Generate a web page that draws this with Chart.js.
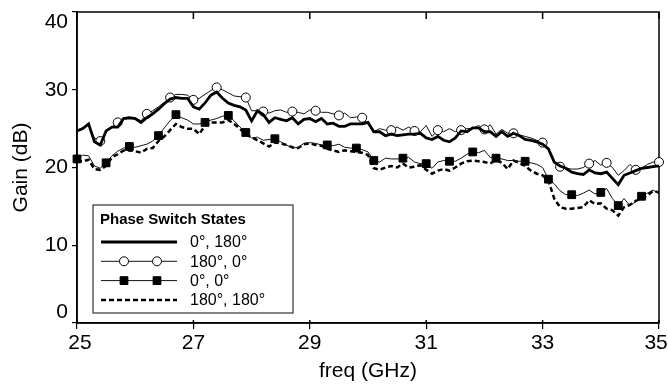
<!DOCTYPE html>
<html>
<head>
<meta charset="utf-8">
<script src="https://cdn.jsdelivr.net/npm/chart.js@4.4.1/dist/chart.umd.min.js"></script>
<style>
html, body { margin: 0; padding: 0; background: #fff; }
#wrap { width: 668px; height: 386px; }
</style>
</head>
<body>
<div id="wrap"><canvas id="chartGain" width="668" height="386"></canvas></div>
<script>
// frecuencias (GHz), paso 0.1
const freqGHz = [
  25.0, 25.1, 25.2, 25.3, 25.4, 25.5, 25.6, 25.7, 25.8, 25.9,
  26.0, 26.1, 26.2, 26.3, 26.4, 26.5, 26.6, 26.7, 26.8, 26.9,
  27.0, 27.1, 27.2, 27.3, 27.4, 27.5, 27.6, 27.7, 27.8, 27.9,
  28.0, 28.1, 28.2, 28.3, 28.4, 28.5, 28.6, 28.7, 28.8, 28.9,
  29.0, 29.1, 29.2, 29.3, 29.4, 29.5, 29.6, 29.7, 29.8, 29.9,
  30.0, 30.1, 30.2, 30.3, 30.4, 30.5, 30.6, 30.7, 30.8, 30.9,
  31.0, 31.1, 31.2, 31.3, 31.4, 31.5, 31.6, 31.7, 31.8, 31.9,
  32.0, 32.1, 32.2, 32.3, 32.4, 32.5, 32.6, 32.7, 32.8, 32.9,
  33.0, 33.1, 33.2, 33.3, 33.4, 33.5, 33.6, 33.7, 33.8, 33.9,
  34.0, 34.1, 34.2, 34.3, 34.4, 34.5, 34.6, 34.7, 34.8, 34.9,
  35.0
];

// ganancia (dB) por estado de los conmutadores de fase
const gain0_180 = [
  24.7, 25.0, 25.6, 23.3, 22.9, 24.7, 25.2, 25.2, 26.3, 26.4,
  26.3, 25.8, 26.4, 26.9, 27.5, 28.2, 28.8, 29.0, 28.9, 28.9,
  27.8, 27.5, 28.3, 29.3, 29.7, 28.9, 28.3, 28.0, 27.8, 27.4,
  26.0, 27.3, 26.8, 25.8, 26.4, 26.2, 26.0, 26.4, 25.6, 26.2,
  26.3, 25.9, 26.3, 25.6, 25.7, 25.3, 25.3, 25.6, 25.6, 25.6,
  25.8, 24.6, 24.6, 24.1, 24.3, 24.1, 24.2, 24.3, 24.3, 24.4,
  23.8, 23.6, 24.0, 23.5, 23.3, 23.8, 24.7, 24.6, 25.1, 25.1,
  24.6, 24.6, 24.0, 24.6, 24.0, 24.4, 24.1, 23.6, 23.5, 23.3,
  23.0, 22.4, 20.7, 20.2, 19.9, 19.4, 19.2, 19.1, 19.7, 19.3,
  19.2, 19.4, 18.6, 17.8, 19.0, 19.3, 19.6, 19.9, 20.0, 20.1,
  20.2
];
const gain180_0 = [
  24.8, 25.1, 25.5, 23.8, 23.4, 24.6, 25.2, 25.8, 26.4, 26.4,
  26.4, 26.0, 26.9, 27.3, 27.8, 28.4, 29.0, 29.4, 29.4, 29.3,
  28.7, 28.9, 29.4, 29.9, 30.3, 30.0, 29.6, 29.2, 29.1, 29.0,
  27.3, 27.3, 27.2, 27.0, 27.3, 27.4, 27.1, 27.2, 27.1, 26.9,
  27.4, 27.3, 27.1, 27.1, 26.9, 26.7, 27.0, 26.4, 26.5, 26.4,
  25.6, 24.6, 25.0, 24.8, 24.8, 25.2, 24.8, 25.2, 24.7, 24.6,
  25.4, 24.0, 24.8, 24.6, 25.0, 24.6, 24.8, 25.0, 25.0, 25.4,
  24.9, 25.5, 24.3, 24.9, 24.4, 24.4, 24.2, 24.0, 23.8, 23.5,
  23.2, 22.5, 20.8, 20.1, 19.9, 19.8, 19.8, 20.0, 20.5, 20.9,
  20.3, 20.6, 20.0, 19.0, 19.6, 20.4, 19.7, 19.9, 20.4, 20.7,
  20.7
];
const gain0_0 = [
  21.1, 21.6, 21.5, 20.2, 19.9, 20.6, 21.5, 22.1, 22.5, 22.7,
  22.6, 22.8, 23.0, 23.4, 24.1, 25.1, 26.0, 26.8, 26.4, 26.1,
  25.6, 25.6, 25.8, 26.1, 26.3, 26.6, 26.7, 26.0, 25.2, 24.5,
  23.8, 23.9, 23.5, 23.6, 23.7, 23.3, 22.9, 22.5, 22.6, 23.1,
  23.2, 23.1, 22.9, 22.9, 22.8, 23.0, 22.6, 22.5, 22.5, 22.3,
  22.0, 20.9, 20.7, 21.2, 21.1, 21.1, 21.2, 21.3, 20.7, 20.5,
  20.5, 19.9, 20.7, 20.9, 20.8, 20.8, 21.2, 21.7, 22.0, 21.9,
  22.2, 21.3, 21.2, 21.1, 20.9, 20.9, 20.8, 20.8, 20.6, 20.4,
  20.0, 18.5, 17.9, 17.0, 16.5, 16.5, 16.4, 16.7, 17.1, 16.6,
  16.8, 17.3, 16.0, 15.1, 16.0, 15.1, 15.6, 16.3, 16.7, 17.1,
  16.6
];
const gain180_180 = [
  20.8, 20.8, 21.0, 19.8, 19.7, 20.2, 21.3, 21.7, 22.2, 22.2,
  22.1, 21.9, 22.4, 22.5, 23.4, 24.0, 24.8, 25.6, 25.2, 25.0,
  25.0, 24.3, 25.4, 25.8, 25.8, 25.8, 26.1, 25.6, 25.0, 24.2,
  23.9, 23.5, 23.1, 22.7, 23.2, 23.1, 22.9, 22.6, 22.5, 23.0,
  23.1, 22.9, 22.8, 22.4, 22.2, 22.0, 22.2, 22.1, 22.0, 21.9,
  21.6, 19.9, 19.7, 20.0, 20.2, 20.0, 20.5, 20.0, 20.1, 20.3,
  19.7, 19.2, 19.6, 19.8, 19.6, 20.0, 20.5, 20.8, 20.9, 20.8,
  20.7, 20.5, 21.0, 20.6, 19.8, 20.9, 20.6, 20.2, 19.6, 19.2,
  19.0, 18.3, 16.0, 14.9, 14.7, 14.7, 14.8, 14.9, 15.8, 15.3,
  15.4, 14.7, 14.5, 13.8, 14.9, 15.2, 15.7, 16.0, 16.4, 17.0,
  16.8
];

// indices de los puntos que llevan marcador
const circleIdx = [4, 7, 12, 16, 20, 24, 29, 32, 37, 41, 45, 49, 54, 58, 62, 66, 70, 75, 80, 83, 88, 91, 96, 100];
const squareIdx = [0, 5, 9, 14, 17, 22, 26, 29, 34, 43, 48, 51, 56, 60, 64, 68, 72, 77, 81, 85, 90, 93, 97];

const xTicks = [25, 27, 29, 31, 33, 35];
const yTicks = [0, 10, 20, 30, 40];
const seriesLabels = ['0°, 180°', '180°, 0°', '0°, 0°', '180°, 180°'];
const legendTitle = 'Phase Switch States';

const FONT = "'Liberation Sans', Arial, Helvetica, sans-serif";

function toPoints(arr) {
    return freqGHz.map((f, i) => ({ x: f, y: arr[i] }));
}

// Caja, ticks interiores y leyenda dibujados a mano
const framePlugin = {
    id: 'frame',
    beforeDatasetsDraw(chart) {
        const { ctx, chartArea: a, scales } = chart;
        ctx.save();
        ctx.strokeStyle = '#000';
        ctx.lineWidth = 1.5;
        ctx.strokeRect(a.left, a.top, a.right - a.left, a.bottom - a.top);
        ctx.beginPath();
        xTicks.forEach(v => {
            const x = scales.x.getPixelForValue(v);
            ctx.moveTo(x, a.top); ctx.lineTo(x, a.top + 7);
            ctx.moveTo(x, a.bottom); ctx.lineTo(x, a.bottom - 3);
        });
        ctx.stroke();
        ctx.restore();
    },
    afterDatasetsDraw(chart) {
        const { ctx, chartArea: a } = chart;
        const box = { x: a.left + 16, y: a.top + 193, w: 200, h: 108 };
        ctx.save();
        ctx.fillStyle = '#fff';
        ctx.fillRect(box.x, box.y, box.w, box.h);
        ctx.strokeStyle = '#333';
        ctx.lineWidth = 1.2;
        ctx.strokeRect(box.x, box.y, box.w, box.h);

        ctx.fillStyle = '#000';
        ctx.font = 'bold 15px ' + FONT;
        ctx.textBaseline = 'middle';
        ctx.textAlign = 'left';
        ctx.fillText(legendTitle, box.x + 7, box.y + 15);

        chart.data.datasets.forEach((ds, i) => {
            const y = box.y + 37 + i * 19.3;
            const x0 = box.x + 8, x1 = box.x + 84;
            ctx.save();
            ctx.strokeStyle = ds.borderColor;
            ctx.lineWidth = ds.borderWidth;
            ctx.setLineDash(ds.borderDash || []);
            ctx.beginPath();
            ctx.moveTo(x0, y); ctx.lineTo(x1, y);
            ctx.stroke();
            ctx.restore();
            if (ds.legendMarker) {
                [box.x + 31, box.x + 64].forEach(mx => {
                    ctx.save();
                    ctx.fillStyle = ds.pointBackgroundColor;
                    ctx.strokeStyle = ds.pointBorderColor;
                    ctx.lineWidth = 1;
                    Chart.helpers.drawPoint(ctx, {
                        pointStyle: ds.pointStyle, radius: ds.legendMarker,
                        rotation: 0, borderWidth: 1
                    }, mx, y);
                    ctx.restore();
                });
            }
            ctx.fillStyle = '#000';
            ctx.font = '16px ' + FONT;
            ctx.fillText(ds.label, box.x + 97, y + 1);
        });
        ctx.restore();
    }
};

const ctx = document.getElementById('chartGain').getContext('2d');
const chartGain = new Chart(ctx, {
    type: 'line',
    data: {
        datasets: [
            {
                label: seriesLabels[0],
                data: toPoints(gain0_180),
                borderColor: '#000',
                borderWidth: 2.8,
                pointRadius: 0,
                clip: 8
            },
            {
                label: seriesLabels[1],
                data: toPoints(gain180_0),
                borderColor: '#111',
                borderWidth: 1,
                pointStyle: 'circle',
                pointRadius: c => circleIdx.includes(c.dataIndex) ? 4.5 : 0,
                pointBackgroundColor: '#fff',
                pointBorderColor: '#000',
                pointBorderWidth: 1,
                legendMarker: 4.5,
                clip: 8
            },
            {
                label: seriesLabels[2],
                data: toPoints(gain0_0),
                borderColor: '#111',
                borderWidth: 1,
                pointStyle: 'rect',
                pointRadius: c => squareIdx.includes(c.dataIndex) ? 5.5 : 0,
                pointBackgroundColor: '#000',
                pointBorderColor: '#000',
                pointBorderWidth: 1,
                legendMarker: 5.5,
                clip: 8
            },
            {
                label: seriesLabels[3],
                data: toPoints(gain180_180),
                borderColor: '#000',
                borderWidth: 2.5,
                borderDash: [5, 3],
                pointRadius: 0,
                clip: 8
            }
        ]
    },
    options: {
        responsive: false,
        animation: false,
        events: [],
        layout: { padding: { top: 12, right: 9, left: 0, bottom: 0 } },
        elements: { line: { tension: 0 }, point: { hoverRadius: 0 } },
        plugins: { legend: { display: false }, tooltip: { enabled: false } },
        scales: {
            x: {
                type: 'linear',
                min: 25,
                max: 35,
                afterBuildTicks: s => { s.ticks = xTicks.map(v => ({ value: v })); },
                afterFit: s => { s.height = 63; s.paddingLeft = 0; s.paddingRight = 0; },
                grid: { drawOnChartArea: false, drawTicks: true, tickLength: 6, color: '#000', lineWidth: 1.2 },
                border: { display: true, color: '#000', width: 1.5 },
                ticks: {
                    color: '#000', font: { family: FONT, size: 21 }, padding: 2, maxRotation: 0,
                    // las etiquetas de los extremos se corren un poco hacia dentro
                    callback: v => v === 25 ? ' 25' : (v === 35 ? '35 ' : String(v))
                },
                title: {
                    display: true, text: 'freq (GHz)', color: '#000',
                    font: { family: FONT, size: 21 }, padding: { top: 0, bottom: 2 }
                }
            },
            y: {
                min: 0,
                max: 40,
                afterBuildTicks: s => { s.ticks = yTicks.map(v => ({ value: v })); },
                afterFit: s => { s.width = 77; s.paddingTop = 0; s.paddingBottom = 0; },
                grid: { drawOnChartArea: false, drawTicks: true, tickLength: 5, color: '#000', lineWidth: 1.2 },
                border: { display: true, color: '#000', width: 1.5 },
                ticks: {
                    color: '#000',
                    font: { family: FONT, size: 21, lineHeight: 1.0 },
                    padding: 4,
                    // las etiquetas extremas quedan dentro del recuadro
                    callback: v => v === 0 ? ['0', ''] : (v === 40 ? ['', '40'] : String(v))
                },
                title: {
                    display: true, text: 'Gain (dB)', color: '#000',
                    font: { family: FONT, size: 21 }, padding: { top: 9, bottom: 0 }
                }
            }
        }
    },
    plugins: [framePlugin]
});
</script>
</body>
</html>
